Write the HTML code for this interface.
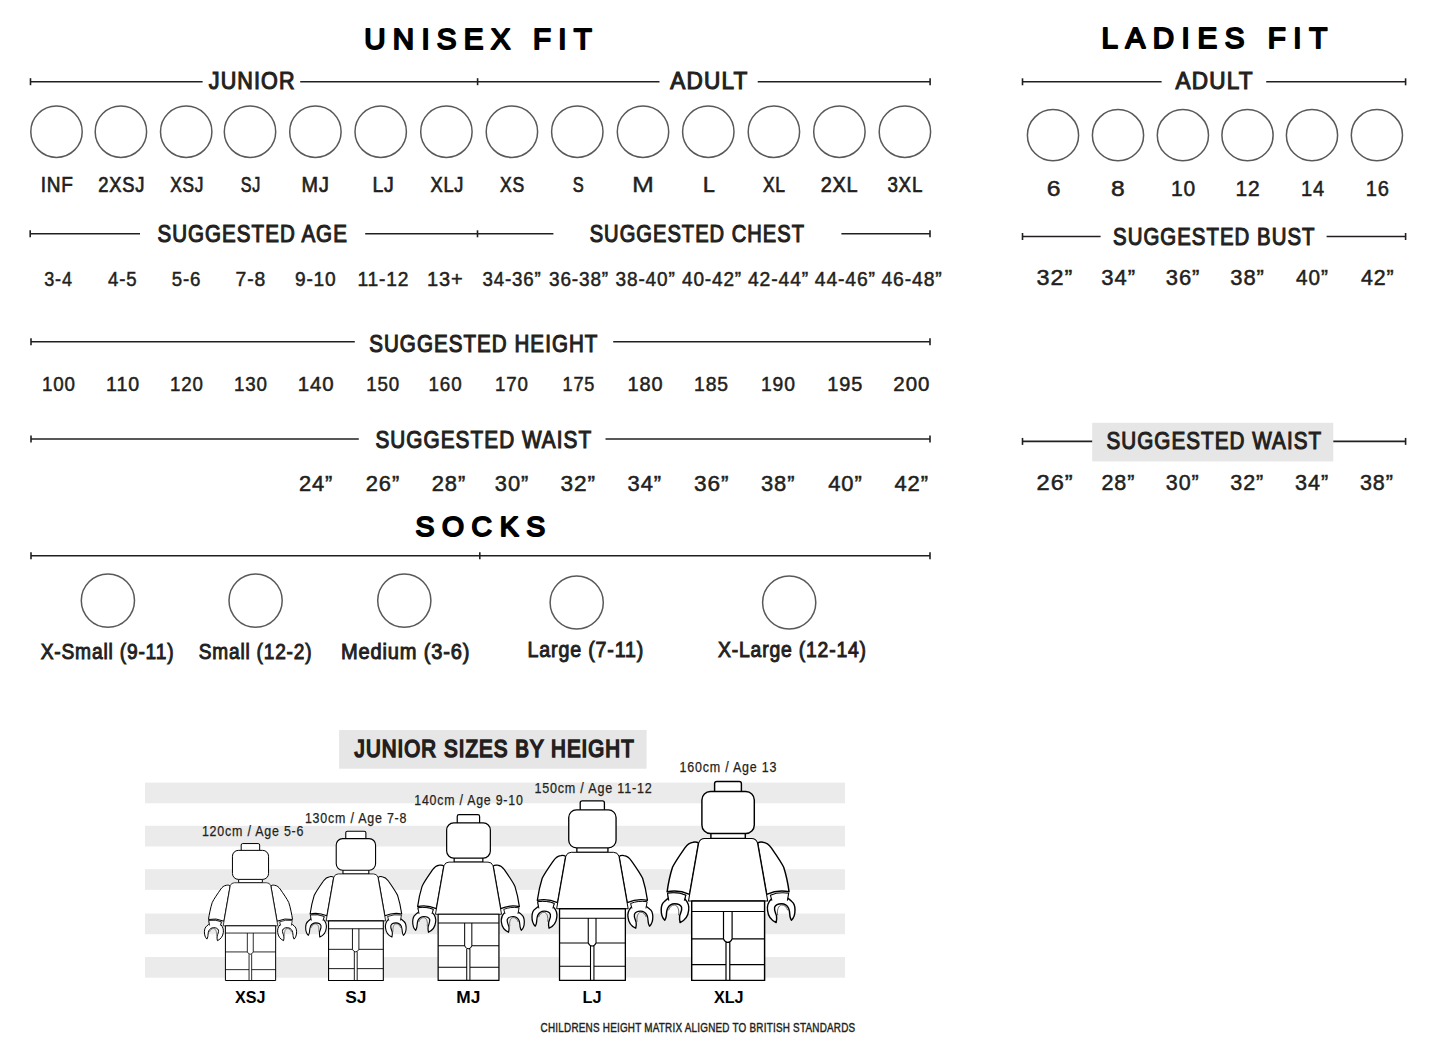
<!DOCTYPE html>
<html><head><meta charset="utf-8"><title>Size Guide</title>
<style>html,body{margin:0;padding:0;background:#fff;width:1446px;height:1058px;overflow:hidden}
svg{display:block} text{font-family:"Liberation Sans",sans-serif}</style></head>
<body><svg width="1446" height="1058" viewBox="0 0 1446 1058">
<rect width="1446" height="1058" fill="#fff"/>
<rect x="1092.2" y="422.8" width="241.1" height="38.6" fill="#e6e6e6"/><rect x="339.1" y="730" width="307.5" height="38.7" fill="#e6e6e6"/><rect x="145" y="782.6" width="700" height="20.7" fill="#ebebeb"/><rect x="145" y="825.8" width="700" height="20.7" fill="#ebebeb"/><rect x="145" y="869.2" width="700" height="20.7" fill="#ebebeb"/><rect x="145" y="913.5" width="700" height="20.7" fill="#ebebeb"/><rect x="145" y="957" width="700" height="20.7" fill="#ebebeb"/>
<g stroke="#231f20" stroke-width="1.6" fill="none"><line x1="30.5" y1="81.7" x2="202.6" y2="81.7"/><line x1="300.2" y1="81.7" x2="659.5" y2="81.7"/><line x1="757.7" y1="81.7" x2="930.1" y2="81.7"/><line x1="30.5" y1="78.2" x2="30.5" y2="85.2"/><line x1="477.6" y1="78.2" x2="477.6" y2="85.2"/><line x1="930.1" y1="78.2" x2="930.1" y2="85.2"/><line x1="1022.5" y1="81.8" x2="1161.6" y2="81.8"/><line x1="1266.2" y1="81.8" x2="1405.6" y2="81.8"/><line x1="1022.5" y1="78.3" x2="1022.5" y2="85.3"/><line x1="1405.6" y1="78.3" x2="1405.6" y2="85.3"/><line x1="30.2" y1="233.8" x2="140" y2="233.8"/><line x1="365.2" y1="233.8" x2="553.4" y2="233.8"/><line x1="841.4" y1="233.8" x2="930" y2="233.8"/><line x1="30.2" y1="230.3" x2="30.2" y2="237.3"/><line x1="477.5" y1="230.3" x2="477.5" y2="237.3"/><line x1="930" y1="230.3" x2="930" y2="237.3"/><line x1="1022.5" y1="236.5" x2="1100.6" y2="236.5"/><line x1="1326.6" y1="236.5" x2="1405.6" y2="236.5"/><line x1="1022.5" y1="233.0" x2="1022.5" y2="240.0"/><line x1="1405.6" y1="233.0" x2="1405.6" y2="240.0"/><line x1="31" y1="341.7" x2="354.8" y2="341.7"/><line x1="613.2" y1="341.7" x2="930" y2="341.7"/><line x1="31" y1="338.2" x2="31" y2="345.2"/><line x1="930" y1="338.2" x2="930" y2="345.2"/><line x1="31" y1="439.0" x2="358.8" y2="439.0"/><line x1="605.5" y1="439.0" x2="930" y2="439.0"/><line x1="31" y1="435.5" x2="31" y2="442.5"/><line x1="930" y1="435.5" x2="930" y2="442.5"/><line x1="1022.5" y1="441.4" x2="1092.2" y2="441.4"/><line x1="1333.3" y1="441.4" x2="1405.6" y2="441.4"/><line x1="1022.5" y1="437.9" x2="1022.5" y2="444.9"/><line x1="1405.6" y1="437.9" x2="1405.6" y2="444.9"/><line x1="31" y1="555.8" x2="930" y2="555.8"/><line x1="31" y1="552.3" x2="31" y2="559.3"/><line x1="479.8" y1="552.3" x2="479.8" y2="559.3"/><line x1="930" y1="552.3" x2="930" y2="559.3"/></g>
<g stroke="#58595b" stroke-width="1.5" fill="none"><circle cx="56.5" cy="131.7" r="25.7"/><circle cx="120.9" cy="131.7" r="25.7"/><circle cx="186.2" cy="131.7" r="25.7"/><circle cx="250" cy="131.7" r="25.7"/><circle cx="315.4" cy="131.7" r="25.7"/><circle cx="380.7" cy="131.7" r="25.7"/><circle cx="446.4" cy="131.7" r="25.7"/><circle cx="511.9" cy="131.7" r="25.7"/><circle cx="577.3" cy="131.7" r="25.7"/><circle cx="643" cy="131.7" r="25.7"/><circle cx="708.3" cy="131.7" r="25.7"/><circle cx="773.9" cy="131.7" r="25.7"/><circle cx="839.4" cy="131.7" r="25.7"/><circle cx="904.9" cy="131.7" r="25.7"/><circle cx="1053" cy="135.2" r="25.6"/><circle cx="1118" cy="135.2" r="25.6"/><circle cx="1182.9" cy="135.2" r="25.6"/><circle cx="1247.5" cy="135.2" r="25.6"/><circle cx="1312" cy="135.2" r="25.6"/><circle cx="1376.9" cy="135.2" r="25.6"/><circle cx="107.9" cy="600.6" r="26.6"/><circle cx="255.6" cy="600.6" r="26.6"/><circle cx="404.3" cy="600.6" r="26.6"/><circle cx="576.7" cy="602.5" r="26.6"/><circle cx="789.2" cy="602.5" r="26.6"/></g>
<defs><g id="fig"><g fill="#fff" stroke="#000" stroke-width="1.45" stroke-linejoin="round">
<path d="M29.6,-137.7 C31.5,-139.2 33,-139 35,-138.6 C39,-138 41,-136 43,-133.2 C48,-126 53,-119 55.6,-113.5 C58,-106 60,-96 61,-89 Q50,-91.5 38.6,-86.5 Z"/>
<path d="M -29.6 -137.7 C -31.5 -139.2 -33 -139 -35 -138.6 C -39 -138 -41 -136 -43 -133.2 C -48 -126 -53 -119 -55.6 -113.5 C -58 -106 -60 -96 -61 -89 Q -50 -91.5 -38.6 -86.5 Z"/>
<path stroke-width="1.1" d="M -42.3 -85.6 Q -50 -89 -60.6 -87.6 L -59.5 -81.5 L -43.5 -81.5 Z"/>
<path d="M43,-81.5 C39.5,-78 39,-73 39.5,-70 C40,-65 43,-60.5 48,-58.2 C48.6,-61 48.8,-63 48.4,-65 C47.5,-68 45.8,-71 46.5,-73.5 C47.5,-76 50,-77.1 53.4,-77.1 C56.5,-77.1 59,-75.5 60.5,-72.5 C61.8,-69.5 61.5,-66 62,-64 C62.3,-62.5 62.8,-61.5 63.3,-60.5 C65.5,-62.5 67,-66.5 66.9,-71.2 C66.8,-75 65.5,-78 63.7,-79.3 C62,-80.8 60.5,-82 59.2,-82.9 Z"/>
<path d="M -43 -81.5 C -39.5 -78 -39 -73 -39.5 -70 C -40 -65 -43 -60.5 -48 -58.2 C -48.6 -61 -48.8 -63 -48.4 -65 C -47.5 -68 -45.8 -71 -46.5 -73.5 C -47.5 -76 -50 -77.1 -53.4 -77.1 C -56.5 -77.1 -59 -75.5 -60.5 -72.5 C -61.8 -69.5 -61.5 -66 -62 -64 C -62.3 -62.5 -62.8 -61.5 -63.3 -60.5 C -65.5 -62.5 -67 -66.5 -66.9 -71.2 C -66.8 -75 -65.5 -78 -63.7 -79.3 C -62 -80.8 -60.5 -82 -59.2 -82.9 Z"/>
<path stroke-width="1.1" d="M43.8,-80.2 L42.3,-85.6 Q50,-89 60.6,-87.6 L59.3,-80.2"/>
<path stroke-width="1.1" d="M-43.8,-80.2 L-42.3,-85.6 Q-50,-89 -60.6,-87.6 L-59.3,-80.2"/>
<path fill="none" stroke-width="0.6" d="M49.6,-65.5 C48.6,-70 50.2,-75.6 53.4,-75.8 C56.5,-76 58.6,-73.5 59.6,-70.5 M -49.6 -65.5 C -48.6 -70 -50.2 -75.6 -53.4 -75.8 C -56.5 -76 -58.6 -73.5 -59.6 -70.5"/>
<rect x="-13.5" y="-199.2" width="26.8" height="12" rx="2.2"/>
<rect x="-17.2" y="-149" width="34.4" height="6.7"/>
<rect x="-26.2" y="-189.3" width="52.4" height="42.1" rx="8.5"/>
<path stroke-width="1.1" d="M-23.4,-142.3 L23.4,-142.3 Q28,-142.3 29.4,-138 L39.6,-79.8 L-39.6,-79.8 L-29.4,-138 Q-28,-142.3 -23.4,-142.3 Z"/>
<rect x="-36.4" y="-79.8" width="72.9" height="79.4"/>
<path fill="none" stroke-width="1.2" d="M-36.4,-69.3 L36.5,-69.3 M-36.4,-41.9 L-4.6,-41.9 M4,-41.9 L36.5,-41.9 M-4.6,-69.3 L-4.6,-41.9 Q-3,-38.5 -0.3,-38.5 Q2.5,-38.5 4,-41.9 L4,-69.3 M-2.1,-38.5 L-2.1,-0.4 M1.7,-38.5 L1.7,-0.4 M-36.4,-16.2 L-2.1,-16.2 M1.7,-16.2 L36.5,-16.2"/>
</g></g></defs><use href="#fig" transform="translate(250.5,980.8) scale(0.689)"/><use href="#fig" transform="translate(355.9,980.8) scale(0.751)"/><use href="#fig" transform="translate(468.5,980.8) scale(0.834)"/><use href="#fig" transform="translate(592.4,980.8) scale(0.903)"/><use href="#fig" transform="translate(728.1,980.8) scale(1.0)"/>
<text id="t0" x="364.30" y="48.60" font-size="29.5" font-weight="normal" fill="#000" textLength="227.55" lengthAdjust="spacing" stroke="#000" stroke-width="2.0" stroke-linejoin="round" stroke-linecap="round">UNISEX FIT</text><text id="t1" x="1101.40" y="48.10" font-size="29.5" font-weight="normal" fill="#000" textLength="225.80" lengthAdjust="spacing" stroke="#000" stroke-width="2.0" stroke-linejoin="round" stroke-linecap="round">LADIES FIT</text><text id="t2" x="415.40" y="535.50" font-size="28.3" font-weight="normal" fill="#000" textLength="129.69" lengthAdjust="spacing" stroke="#000" stroke-width="2.0" stroke-linejoin="round" stroke-linecap="round">SOCKS</text><text id="t3" x="208.80" y="89.30" font-size="23.6" font-weight="normal" fill="#231f20" textLength="86.89" lengthAdjust="spacingAndGlyphs" stroke="#231f20" stroke-width="1.1" letter-spacing="1.2">JUNIOR</text><text id="t4" x="670.30" y="89.30" font-size="23.6" font-weight="normal" fill="#231f20" textLength="78.09" lengthAdjust="spacingAndGlyphs" stroke="#231f20" stroke-width="1.1" letter-spacing="1.2">ADULT</text><text id="t5" x="1175.60" y="89.40" font-size="23.6" font-weight="normal" fill="#231f20" textLength="78.11" lengthAdjust="spacingAndGlyphs" stroke="#231f20" stroke-width="1.1" letter-spacing="1.2">ADULT</text><text id="t6" x="157.50" y="242.00" font-size="23.6" font-weight="normal" fill="#231f20" textLength="190.37" lengthAdjust="spacingAndGlyphs" stroke="#231f20" stroke-width="1.1" letter-spacing="1.2">SUGGESTED AGE</text><text id="t7" x="589.70" y="242.40" font-size="23.6" font-weight="normal" fill="#231f20" textLength="215.33" lengthAdjust="spacingAndGlyphs" stroke="#231f20" stroke-width="1.1" letter-spacing="1.2">SUGGESTED CHEST</text><text id="t8" x="1113.10" y="244.60" font-size="23.6" font-weight="normal" fill="#231f20" textLength="202.40" lengthAdjust="spacingAndGlyphs" stroke="#231f20" stroke-width="1.1" letter-spacing="1.2">SUGGESTED BUST</text><text id="t9" x="369.20" y="351.50" font-size="23.6" font-weight="normal" fill="#231f20" textLength="229.25" lengthAdjust="spacingAndGlyphs" stroke="#231f20" stroke-width="1.1" letter-spacing="1.2">SUGGESTED HEIGHT</text><text id="t10" x="375.40" y="448.40" font-size="23.6" font-weight="normal" fill="#231f20" textLength="216.80" lengthAdjust="spacingAndGlyphs" stroke="#231f20" stroke-width="1.1" letter-spacing="1.2">SUGGESTED WAIST</text><text id="t11" x="1106.40" y="449.20" font-size="23.6" font-weight="normal" fill="#231f20" textLength="215.79" lengthAdjust="spacingAndGlyphs" stroke="#231f20" stroke-width="1.1" letter-spacing="1.2">SUGGESTED WAIST</text><text id="t12" x="354.60" y="757.10" font-size="23.6" font-weight="normal" fill="#231f20" textLength="280.19" lengthAdjust="spacingAndGlyphs" stroke="#231f20" stroke-width="1.7" letter-spacing="1.2">JUNIOR SIZES BY HEIGHT</text><text id="t13" x="40.68" y="191.95" font-size="21.7" font-weight="normal" fill="#231f20" textLength="32.99" lengthAdjust="spacingAndGlyphs" stroke="#231f20" stroke-width="0.7" letter-spacing="0.9">INF</text><text id="t14" x="98.19" y="191.95" font-size="21.7" font-weight="normal" fill="#231f20" textLength="46.93" lengthAdjust="spacingAndGlyphs" stroke="#231f20" stroke-width="0.7" letter-spacing="0.9">2XSJ</text><text id="t15" x="170.20" y="191.95" font-size="21.7" font-weight="normal" fill="#231f20" textLength="33.86" lengthAdjust="spacingAndGlyphs" stroke="#231f20" stroke-width="0.7" letter-spacing="0.9">XSJ</text><text id="t16" x="240.70" y="191.95" font-size="21.7" font-weight="normal" fill="#231f20" textLength="20.19" lengthAdjust="spacingAndGlyphs" stroke="#231f20" stroke-width="0.7" letter-spacing="0.9">SJ</text><text id="t17" x="301.60" y="191.95" font-size="21.7" font-weight="normal" fill="#231f20" textLength="28.06" lengthAdjust="spacingAndGlyphs" stroke="#231f20" stroke-width="0.7" letter-spacing="0.9">MJ</text><text id="t18" x="372.39" y="191.95" font-size="21.7" font-weight="normal" fill="#231f20" textLength="22.18" lengthAdjust="spacingAndGlyphs" stroke="#231f20" stroke-width="0.7" letter-spacing="0.9">LJ</text><text id="t19" x="430.50" y="191.95" font-size="21.7" font-weight="normal" fill="#231f20" textLength="33.64" lengthAdjust="spacingAndGlyphs" stroke="#231f20" stroke-width="0.7" letter-spacing="0.9">XLJ</text><text id="t20" x="500.10" y="191.95" font-size="21.7" font-weight="normal" fill="#231f20" textLength="24.98" lengthAdjust="spacingAndGlyphs" stroke="#231f20" stroke-width="0.7" letter-spacing="0.9">XS</text><text id="t21" x="572.80" y="191.95" font-size="21.7" font-weight="normal" fill="#231f20" textLength="11.66" lengthAdjust="spacingAndGlyphs" stroke="#231f20" stroke-width="0.7" letter-spacing="0.9">S</text><text id="t22" x="631.97" y="191.95" font-size="21.7" font-weight="normal" fill="#231f20" textLength="23.01" lengthAdjust="spacingAndGlyphs" stroke="#231f20" stroke-width="0.35" letter-spacing="0.9">M</text><text id="t23" x="703.06" y="191.95" font-size="21.7" font-weight="normal" fill="#231f20" textLength="12.69" lengthAdjust="spacingAndGlyphs" stroke="#231f20" stroke-width="0.7" letter-spacing="0.9">L</text><text id="t24" x="762.90" y="191.95" font-size="21.7" font-weight="normal" fill="#231f20" textLength="22.81" lengthAdjust="spacingAndGlyphs" stroke="#231f20" stroke-width="0.7" letter-spacing="0.9">XL</text><text id="t25" x="820.68" y="191.95" font-size="21.7" font-weight="normal" fill="#231f20" textLength="37.83" lengthAdjust="spacingAndGlyphs" stroke="#231f20" stroke-width="0.7" letter-spacing="0.9">2XL</text><text id="t26" x="887.40" y="191.95" font-size="21.7" font-weight="normal" fill="#231f20" textLength="35.74" lengthAdjust="spacingAndGlyphs" stroke="#231f20" stroke-width="0.7" letter-spacing="0.9">3XL</text><text id="t27" x="44.30" y="285.90" font-size="20.3" font-weight="normal" fill="#231f20" textLength="28.44" lengthAdjust="spacingAndGlyphs" stroke="#231f20" stroke-width="0.5" letter-spacing="0.9">3-4</text><text id="t28" x="108.10" y="285.90" font-size="20.3" font-weight="normal" fill="#231f20" textLength="29.43" lengthAdjust="spacingAndGlyphs" stroke="#231f20" stroke-width="0.5" letter-spacing="0.9">4-5</text><text id="t29" x="171.82" y="285.90" font-size="20.3" font-weight="normal" fill="#231f20" textLength="29.52" lengthAdjust="spacingAndGlyphs" stroke="#231f20" stroke-width="0.5" letter-spacing="0.9">5-6</text><text id="t30" x="235.60" y="285.90" font-size="20.3" font-weight="normal" fill="#231f20" textLength="30.53" lengthAdjust="spacingAndGlyphs" stroke="#231f20" stroke-width="0.5" letter-spacing="0.9">7-8</text><text id="t31" x="294.89" y="285.90" font-size="20.3" font-weight="normal" fill="#231f20" textLength="41.75" lengthAdjust="spacingAndGlyphs" stroke="#231f20" stroke-width="0.5" letter-spacing="0.9">9-10</text><text id="t32" x="357.39" y="285.90" font-size="20.3" font-weight="normal" fill="#231f20" textLength="51.93" lengthAdjust="spacingAndGlyphs" stroke="#231f20" stroke-width="0.5" letter-spacing="0.9">11-12</text><text id="t33" x="427.10" y="285.90" font-size="20.3" font-weight="normal" fill="#231f20" textLength="36.61" lengthAdjust="spacingAndGlyphs" stroke="#231f20" stroke-width="0.5" letter-spacing="0.9">13+</text><text id="t34" x="482.60" y="285.90" font-size="20.3" font-weight="normal" fill="#231f20" textLength="59.02" lengthAdjust="spacingAndGlyphs" stroke="#231f20" stroke-width="0.5" letter-spacing="0.9">34-36”</text><text id="t35" x="549.00" y="285.90" font-size="20.3" font-weight="normal" fill="#231f20" textLength="60.01" lengthAdjust="spacingAndGlyphs" stroke="#231f20" stroke-width="0.5" letter-spacing="0.9">36-38”</text><text id="t36" x="615.60" y="285.90" font-size="20.3" font-weight="normal" fill="#231f20" textLength="60.04" lengthAdjust="spacingAndGlyphs" stroke="#231f20" stroke-width="0.5" letter-spacing="0.9">38-40”</text><text id="t37" x="682.00" y="285.90" font-size="20.3" font-weight="normal" fill="#231f20" textLength="60.03" lengthAdjust="spacingAndGlyphs" stroke="#231f20" stroke-width="0.5" letter-spacing="0.9">40-42”</text><text id="t38" x="748.00" y="285.90" font-size="20.3" font-weight="normal" fill="#231f20" textLength="61.06" lengthAdjust="spacingAndGlyphs" stroke="#231f20" stroke-width="0.5" letter-spacing="0.9">42-44”</text><text id="t39" x="814.80" y="285.90" font-size="20.3" font-weight="normal" fill="#231f20" textLength="61.07" lengthAdjust="spacingAndGlyphs" stroke="#231f20" stroke-width="0.5" letter-spacing="0.9">44-46”</text><text id="t40" x="881.50" y="285.90" font-size="20.3" font-weight="normal" fill="#231f20" textLength="61.09" lengthAdjust="spacingAndGlyphs" stroke="#231f20" stroke-width="0.5" letter-spacing="0.9">46-48”</text><text id="t41" x="41.91" y="390.80" font-size="20.2" font-weight="normal" fill="#231f20" textLength="33.83" lengthAdjust="spacingAndGlyphs" stroke="#231f20" stroke-width="0.5" letter-spacing="0.9">100</text><text id="t42" x="106.09" y="390.80" font-size="20.2" font-weight="normal" fill="#231f20" textLength="33.83" lengthAdjust="spacingAndGlyphs" stroke="#231f20" stroke-width="0.5" letter-spacing="0.9">110</text><text id="t43" x="170.00" y="390.80" font-size="20.2" font-weight="normal" fill="#231f20" textLength="33.69" lengthAdjust="spacingAndGlyphs" stroke="#231f20" stroke-width="0.5" letter-spacing="0.9">120</text><text id="t44" x="234.00" y="390.80" font-size="20.2" font-weight="normal" fill="#231f20" textLength="33.75" lengthAdjust="spacingAndGlyphs" stroke="#231f20" stroke-width="0.5" letter-spacing="0.9">130</text><text id="t45" x="297.77" y="390.80" font-size="20.2" font-weight="normal" fill="#231f20" textLength="36.91" lengthAdjust="spacingAndGlyphs" stroke="#231f20" stroke-width="0.5" letter-spacing="0.9">140</text><text id="t46" x="366.21" y="390.80" font-size="20.2" font-weight="normal" fill="#231f20" textLength="33.80" lengthAdjust="spacingAndGlyphs" stroke="#231f20" stroke-width="0.5" letter-spacing="0.9">150</text><text id="t47" x="428.59" y="390.80" font-size="20.2" font-weight="normal" fill="#231f20" textLength="33.85" lengthAdjust="spacingAndGlyphs" stroke="#231f20" stroke-width="0.5" letter-spacing="0.9">160</text><text id="t48" x="495.00" y="390.80" font-size="20.2" font-weight="normal" fill="#231f20" textLength="33.69" lengthAdjust="spacingAndGlyphs" stroke="#231f20" stroke-width="0.5" letter-spacing="0.9">170</text><text id="t49" x="562.50" y="390.80" font-size="20.2" font-weight="normal" fill="#231f20" textLength="32.70" lengthAdjust="spacingAndGlyphs" stroke="#231f20" stroke-width="0.5" letter-spacing="0.9">175</text><text id="t50" x="627.49" y="390.80" font-size="20.2" font-weight="normal" fill="#231f20" textLength="35.96" lengthAdjust="spacingAndGlyphs" stroke="#231f20" stroke-width="0.5" letter-spacing="0.9">180</text><text id="t51" x="694.10" y="390.80" font-size="20.2" font-weight="normal" fill="#231f20" textLength="34.83" lengthAdjust="spacingAndGlyphs" stroke="#231f20" stroke-width="0.5" letter-spacing="0.9">185</text><text id="t52" x="761.00" y="390.80" font-size="20.2" font-weight="normal" fill="#231f20" textLength="34.84" lengthAdjust="spacingAndGlyphs" stroke="#231f20" stroke-width="0.5" letter-spacing="0.9">190</text><text id="t53" x="827.19" y="390.80" font-size="20.2" font-weight="normal" fill="#231f20" textLength="35.96" lengthAdjust="spacingAndGlyphs" stroke="#231f20" stroke-width="0.5" letter-spacing="0.9">195</text><text id="t54" x="893.37" y="390.80" font-size="20.2" font-weight="normal" fill="#231f20" textLength="36.91" lengthAdjust="spacingAndGlyphs" stroke="#231f20" stroke-width="0.5" letter-spacing="0.9">200</text><text id="t55" x="298.90" y="490.80" font-size="21.3" font-weight="normal" fill="#231f20" textLength="34.44" lengthAdjust="spacingAndGlyphs" stroke="#231f20" stroke-width="0.5" letter-spacing="0.9">24”</text><text id="t56" x="365.70" y="490.80" font-size="21.3" font-weight="normal" fill="#231f20" textLength="34.44" lengthAdjust="spacingAndGlyphs" stroke="#231f20" stroke-width="0.5" letter-spacing="0.9">26”</text><text id="t57" x="431.70" y="490.80" font-size="21.3" font-weight="normal" fill="#231f20" textLength="34.44" lengthAdjust="spacingAndGlyphs" stroke="#231f20" stroke-width="0.5" letter-spacing="0.9">28”</text><text id="t58" x="494.80" y="490.80" font-size="21.3" font-weight="normal" fill="#231f20" textLength="34.38" lengthAdjust="spacingAndGlyphs" stroke="#231f20" stroke-width="0.5" letter-spacing="0.9">30”</text><text id="t59" x="560.57" y="490.80" font-size="21.3" font-weight="normal" fill="#231f20" textLength="35.54" lengthAdjust="spacingAndGlyphs" stroke="#231f20" stroke-width="0.5" letter-spacing="0.9">32”</text><text id="t60" x="627.52" y="490.80" font-size="21.3" font-weight="normal" fill="#231f20" textLength="34.54" lengthAdjust="spacingAndGlyphs" stroke="#231f20" stroke-width="0.5" letter-spacing="0.9">34”</text><text id="t61" x="694.07" y="490.80" font-size="21.3" font-weight="normal" fill="#231f20" textLength="35.54" lengthAdjust="spacingAndGlyphs" stroke="#231f20" stroke-width="0.5" letter-spacing="0.9">36”</text><text id="t62" x="760.99" y="490.80" font-size="21.3" font-weight="normal" fill="#231f20" textLength="34.48" lengthAdjust="spacingAndGlyphs" stroke="#231f20" stroke-width="0.5" letter-spacing="0.9">38”</text><text id="t63" x="828.20" y="490.80" font-size="21.3" font-weight="normal" fill="#231f20" textLength="34.53" lengthAdjust="spacingAndGlyphs" stroke="#231f20" stroke-width="0.5" letter-spacing="0.9">40”</text><text id="t64" x="894.40" y="490.80" font-size="21.3" font-weight="normal" fill="#231f20" textLength="34.47" lengthAdjust="spacingAndGlyphs" stroke="#231f20" stroke-width="0.5" letter-spacing="0.9">42”</text><text id="t65" x="1046.75" y="195.80" font-size="21.4" font-weight="normal" fill="#231f20" textLength="14.81" lengthAdjust="spacingAndGlyphs" stroke="#231f20" stroke-width="0.5" letter-spacing="0.9">6</text><text id="t66" x="1111.14" y="195.80" font-size="21.4" font-weight="normal" fill="#231f20" textLength="14.74" lengthAdjust="spacingAndGlyphs" stroke="#231f20" stroke-width="0.5" letter-spacing="0.9">8</text><text id="t67" x="1170.98" y="195.80" font-size="21.4" font-weight="normal" fill="#231f20" textLength="25.17" lengthAdjust="spacingAndGlyphs" stroke="#231f20" stroke-width="0.5" letter-spacing="0.9">10</text><text id="t68" x="1235.51" y="195.80" font-size="21.4" font-weight="normal" fill="#231f20" textLength="25.08" lengthAdjust="spacingAndGlyphs" stroke="#231f20" stroke-width="0.5" letter-spacing="0.9">12</text><text id="t69" x="1300.91" y="195.80" font-size="21.4" font-weight="normal" fill="#231f20" textLength="24.01" lengthAdjust="spacingAndGlyphs" stroke="#231f20" stroke-width="0.5" letter-spacing="0.9">14</text><text id="t70" x="1365.68" y="195.80" font-size="21.4" font-weight="normal" fill="#231f20" textLength="24.06" lengthAdjust="spacingAndGlyphs" stroke="#231f20" stroke-width="0.5" letter-spacing="0.9">16</text><text id="t71" x="1036.61" y="284.70" font-size="21.4" font-weight="normal" fill="#231f20" textLength="36.78" lengthAdjust="spacingAndGlyphs" stroke="#231f20" stroke-width="0.5" letter-spacing="0.9">32”</text><text id="t72" x="1101.37" y="284.70" font-size="21.4" font-weight="normal" fill="#231f20" textLength="34.60" lengthAdjust="spacingAndGlyphs" stroke="#231f20" stroke-width="0.5" letter-spacing="0.9">34”</text><text id="t73" x="1165.80" y="284.70" font-size="21.4" font-weight="normal" fill="#231f20" textLength="34.53" lengthAdjust="spacingAndGlyphs" stroke="#231f20" stroke-width="0.5" letter-spacing="0.9">36”</text><text id="t74" x="1230.30" y="284.70" font-size="21.4" font-weight="normal" fill="#231f20" textLength="34.53" lengthAdjust="spacingAndGlyphs" stroke="#231f20" stroke-width="0.5" letter-spacing="0.9">38”</text><text id="t75" x="1296.10" y="284.70" font-size="21.4" font-weight="normal" fill="#231f20" textLength="32.60" lengthAdjust="spacingAndGlyphs" stroke="#231f20" stroke-width="0.5" letter-spacing="0.9">40”</text><text id="t76" x="1360.90" y="284.70" font-size="21.4" font-weight="normal" fill="#231f20" textLength="33.55" lengthAdjust="spacingAndGlyphs" stroke="#231f20" stroke-width="0.5" letter-spacing="0.9">42”</text><text id="t77" x="1036.61" y="489.90" font-size="21.6" font-weight="normal" fill="#231f20" textLength="37.13" lengthAdjust="spacingAndGlyphs" stroke="#231f20" stroke-width="0.5" letter-spacing="0.9">26”</text><text id="t78" x="1101.40" y="489.90" font-size="21.6" font-weight="normal" fill="#231f20" textLength="33.83" lengthAdjust="spacingAndGlyphs" stroke="#231f20" stroke-width="0.5" letter-spacing="0.9">28”</text><text id="t79" x="1165.80" y="489.90" font-size="21.6" font-weight="normal" fill="#231f20" textLength="33.81" lengthAdjust="spacingAndGlyphs" stroke="#231f20" stroke-width="0.5" letter-spacing="0.9">30”</text><text id="t80" x="1230.30" y="489.90" font-size="21.6" font-weight="normal" fill="#231f20" textLength="33.81" lengthAdjust="spacingAndGlyphs" stroke="#231f20" stroke-width="0.5" letter-spacing="0.9">32”</text><text id="t81" x="1295.09" y="489.90" font-size="21.6" font-weight="normal" fill="#231f20" textLength="33.97" lengthAdjust="spacingAndGlyphs" stroke="#231f20" stroke-width="0.5" letter-spacing="0.9">34”</text><text id="t82" x="1359.90" y="489.90" font-size="21.6" font-weight="normal" fill="#231f20" textLength="33.83" lengthAdjust="spacingAndGlyphs" stroke="#231f20" stroke-width="0.5" letter-spacing="0.9">38”</text><text id="t83" x="40.70" y="658.70" font-size="21.3" font-weight="normal" fill="#231f20" textLength="133.67" lengthAdjust="spacingAndGlyphs" stroke="#231f20" stroke-width="0.95" letter-spacing="0.9">X-Small (9-11)</text><text id="t84" x="198.80" y="658.70" font-size="21.3" font-weight="normal" fill="#231f20" textLength="113.51" lengthAdjust="spacingAndGlyphs" stroke="#231f20" stroke-width="0.95" letter-spacing="0.9">Small (12-2)</text><text id="t85" x="341.00" y="658.70" font-size="21.3" font-weight="normal" fill="#231f20" textLength="129.35" lengthAdjust="spacingAndGlyphs" stroke="#231f20" stroke-width="0.95" letter-spacing="0.9">Medium (3-6)</text><text id="t86" x="527.60" y="657.30" font-size="21.3" font-weight="normal" fill="#231f20" textLength="116.54" lengthAdjust="spacingAndGlyphs" stroke="#231f20" stroke-width="0.95" letter-spacing="0.9">Large (7-11)</text><text id="t87" x="718.00" y="657.30" font-size="21.3" font-weight="normal" fill="#231f20" textLength="148.88" lengthAdjust="spacingAndGlyphs" stroke="#231f20" stroke-width="0.95" letter-spacing="0.9">X-Large (12-14)</text><text id="t88" x="235.00" y="1002.80" font-size="17.2" font-weight="bold" fill="#000" textLength="30.47" lengthAdjust="spacingAndGlyphs">XSJ</text><text id="t89" x="345.18" y="1002.80" font-size="17.2" font-weight="bold" fill="#000" textLength="21.27" lengthAdjust="spacingAndGlyphs">SJ</text><text id="t90" x="456.39" y="1002.80" font-size="17.2" font-weight="bold" fill="#000" textLength="24.04" lengthAdjust="spacingAndGlyphs">MJ</text><text id="t91" x="582.49" y="1002.80" font-size="17.2" font-weight="bold" fill="#000" textLength="19.06" lengthAdjust="spacingAndGlyphs">LJ</text><text id="t92" x="713.90" y="1002.80" font-size="17.2" font-weight="bold" fill="#000" textLength="29.67" lengthAdjust="spacingAndGlyphs">XLJ</text><text id="t93" x="201.90" y="836.00" font-size="14.2" font-weight="normal" fill="#231f20" textLength="102.34" lengthAdjust="spacingAndGlyphs" stroke="#231f20" stroke-width="0.25" letter-spacing="0.9">120cm / Age 5-6</text><text id="t94" x="304.90" y="822.50" font-size="14.2" font-weight="normal" fill="#231f20" textLength="102.36" lengthAdjust="spacingAndGlyphs" stroke="#231f20" stroke-width="0.25" letter-spacing="0.9">130cm / Age 7-8</text><text id="t95" x="414.30" y="805.20" font-size="14.2" font-weight="normal" fill="#231f20" textLength="109.23" lengthAdjust="spacingAndGlyphs" stroke="#231f20" stroke-width="0.25" letter-spacing="0.9">140cm / Age 9-10</text><text id="t96" x="534.40" y="792.50" font-size="14.2" font-weight="normal" fill="#231f20" textLength="118.08" lengthAdjust="spacingAndGlyphs" stroke="#231f20" stroke-width="0.25" letter-spacing="0.9">150cm / Age 11-12</text><text id="t97" x="679.60" y="771.80" font-size="14.2" font-weight="normal" fill="#231f20" textLength="97.61" lengthAdjust="spacingAndGlyphs" stroke="#231f20" stroke-width="0.25" letter-spacing="0.9">160cm / Age 13</text><text id="t98" x="540.60" y="1032.00" font-size="13.2" font-weight="normal" fill="#231f20" textLength="314.79" lengthAdjust="spacingAndGlyphs" stroke="#231f20" stroke-width="0.45" letter-spacing="0.3">CHILDRENS HEIGHT MATRIX ALIGNED TO BRITISH STANDARDS</text>
</svg></body></html>
